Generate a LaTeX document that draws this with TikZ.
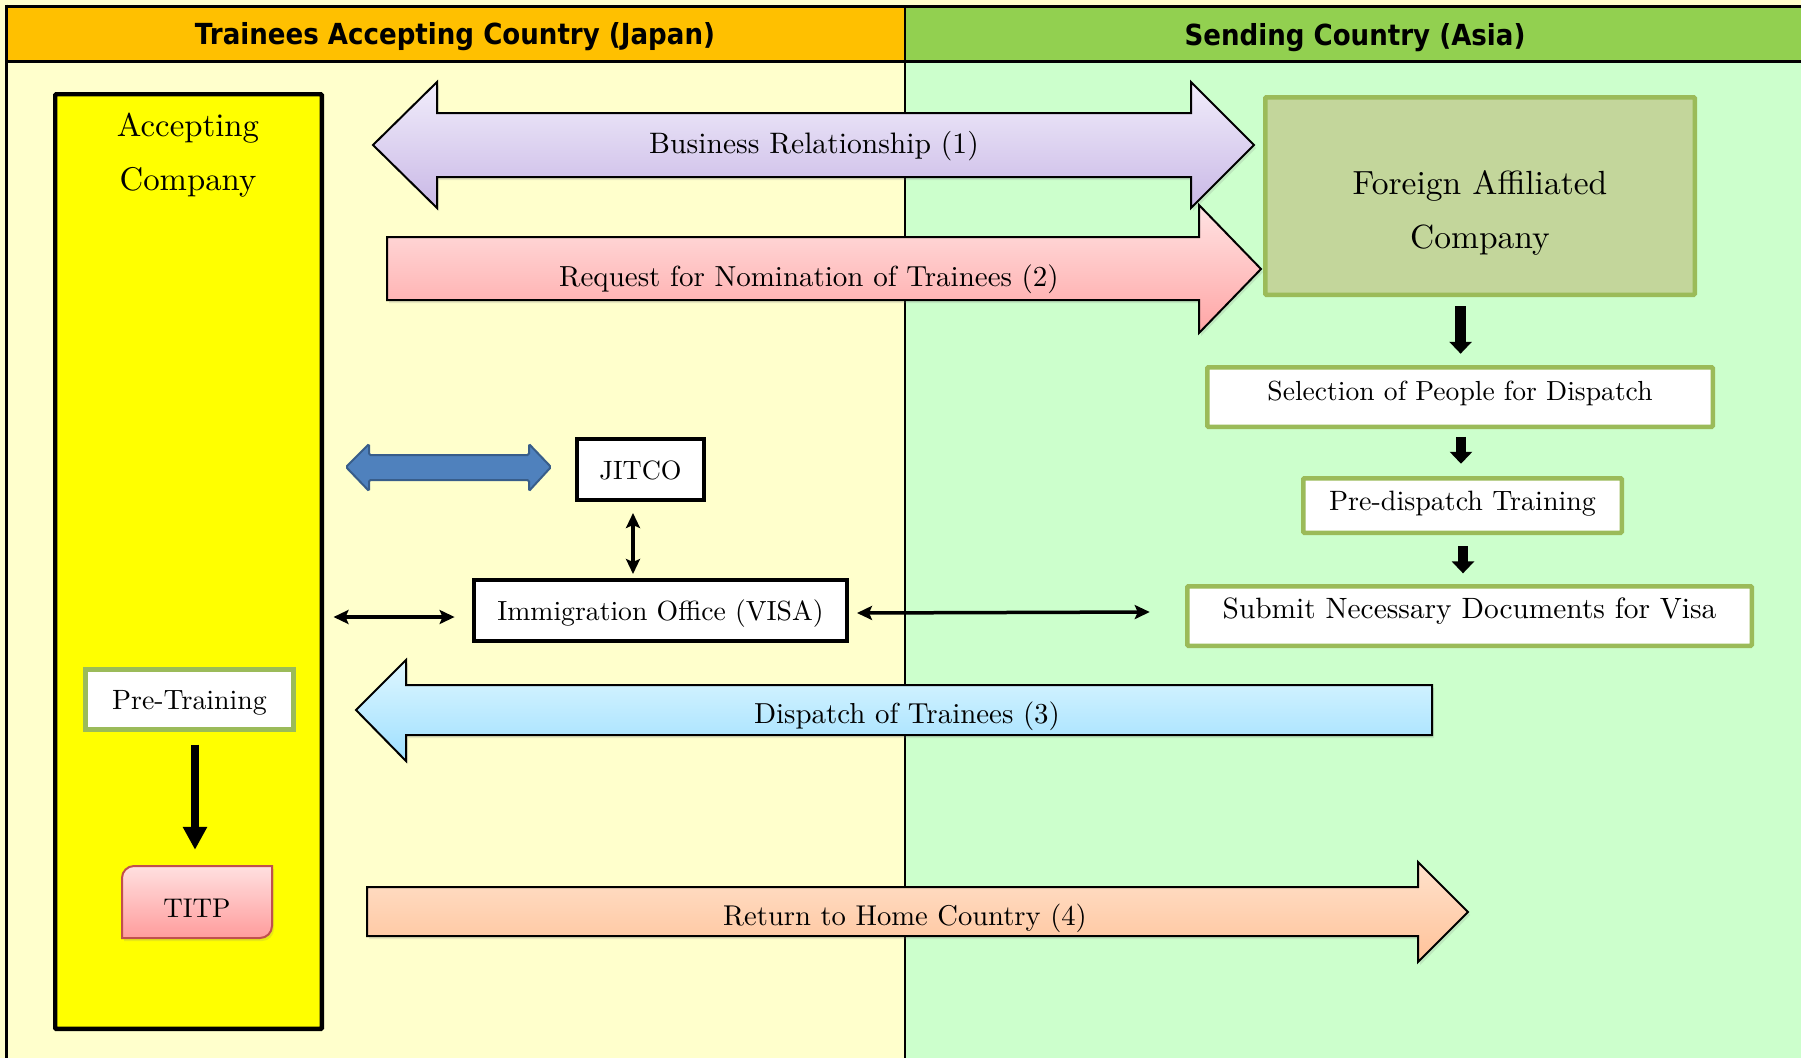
\documentclass[tikz,border=0pt]{standalone}
\usepackage{fontspec}
\usepackage{graphicx}
\setmainfont{lmroman10-regular}[Extension=.otf]
\usetikzlibrary{arrows.meta,calc,shadows}
\newfontfamily\hdrfont{DejaVu Sans}
\newcommand{\fsz}[2]{\fontsize{#1}{#2}\selectfont}
\newcommand{\bl}[2]{\raisebox{#1}[0pt][0pt]{#2}}
\definecolor{hdrOrange}{HTML}{FFC000}
\definecolor{hdrGreen}{HTML}{92D050}
\definecolor{bgY}{HTML}{FFFFCC}
\definecolor{bgG}{HTML}{CCFFCC}
\definecolor{accY}{HTML}{FFFF00}
\definecolor{facFill}{HTML}{C3D69B}
\definecolor{grnB}{HTML}{9BBB59}
\definecolor{blueF}{HTML}{4F81BD}
\definecolor{blueD}{HTML}{385D8A}
\definecolor{titpB}{HTML}{C0504D}
\definecolor{purT}{HTML}{F1EDFB}
\definecolor{purB}{HTML}{C9B8E6}
\definecolor{redT}{HTML}{FFE3E3}
\definecolor{redB}{HTML}{FFA5A5}
\definecolor{cyT}{HTML}{DFF7FF}
\definecolor{cyB}{HTML}{9EDFFF}
\definecolor{orT}{HTML}{FFE2CC}
\definecolor{orB}{HTML}{FFC299}
\definecolor{tpT}{HTML}{FFE0E0}
\definecolor{tpB}{HTML}{FF9C9C}
\begin{document}
\begin{tikzpicture}[x=1pt,y=-1pt,
  gbox/.style={draw=grnB, line width=4.5pt, fill=white, inner sep=0pt, rounded corners=1pt},
  kbox/.style={draw=black, line width=4pt, fill=white, inner sep=0pt},
  blk/.style={line width=3.5pt, {Stealth[length=15pt,width=14pt,inset=3pt]}-{Stealth[length=15pt,width=14pt,inset=3pt]}},
  flow/.style={line width=10.5pt, -{Triangle[length=12pt,width=22pt]}},
  bigarrow/.style={draw=black, line width=2pt, drop shadow={shadow xshift=2pt,shadow yshift=-3pt,opacity=0.18}},
  lbl/.style={inner sep=0pt, anchor=base}]
\useasboundingbox (0,0) rectangle (1801,1058);
% backgrounds
\fill[bgY] (0,0) rectangle (1801,1058);
\fill[bgG] (905,61) rectangle (1801,1058);
\fill[hdrOrange] (6.5,6) rectangle (905,61);
\fill[hdrGreen] (905,6) rectangle (1801,61);
\draw[line width=3pt] (5.25,6) -- (1801,6);
\draw[line width=3pt] (5.25,61) -- (1801,61);
\draw[line width=2.5pt] (6.5,4.5) -- (6.5,1058);
\draw[line width=1.6pt] (905,6) -- (905,61);
\draw[line width=1.2pt] (905,61) -- (905,1058);
% headers
\node[lbl, font=\hdrfont\bfseries\fsz{29}{35}] (h1) at (455,44.5) {\scalebox{0.9}[1]{Trainees Accepting Country (Japan)}};
\node[lbl, font=\hdrfont\bfseries\fsz{29}{35}] (h2) at (1355,45.5) {\scalebox{0.9}[1]{Sending Country (Asia)}};
% accepting company
\node[draw=black, line width=4.3pt, fill=accY, minimum width=266.7pt, minimum height=934.7pt, inner sep=0pt, rounded corners=1pt] (acc) at (188.5,561.5) {};
\node[lbl, font=\fsz{32.8}{54}, align=center] (acclabel) at (188,190) {Accepting\\Company};
% foreign affiliated company
\node[draw=grnB, line width=4.5pt, fill=facFill, minimum width=429.5pt, minimum height=197.5pt, inner sep=0pt, rounded corners=1pt] (fac) at (1480,196) {};
\node[lbl, font=\fsz{33.5}{54}, align=center] (faclabel) at (1480,248) {Foreign Affiliated\\Company};
% big arrows
\shadedraw[bigarrow, top color=purT, bottom color=purB]
  (373,145) -- (437,82) -- (437,113) -- (1191,113) -- (1191,82) -- (1254,145) -- (1191,208) -- (1191,177) -- (437,177) -- (437,208) -- cycle;
\node[lbl, font=\fsz{29.6}{35}] (brl) at (814,153) {Business Relationship (1)};
\shadedraw[bigarrow, top color=redT, bottom color=redB]
  (387,237) -- (1199,237) -- (1199,205) -- (1261,269) -- (1199,333) -- (1199,300) -- (387,300) -- cycle;
\node[lbl, font=\fsz{29}{35}] (rql) at (809,286) {Request for Nomination of Trainees (2)};
\shadedraw[bigarrow, top color=cyT, bottom color=cyB]
  (356,710) -- (406,660) -- (406,685) -- (1432,685) -- (1432,735) -- (406,735) -- (406,761) -- cycle;
\node[lbl, font=\fsz{28.9}{35}] (dpl) at (907,723) {Dispatch of Trainees (3)};
\shadedraw[bigarrow, top color=orT, bottom color=orB]
  (367,887) -- (1418,887) -- (1418,862) -- (1468,912) -- (1418,962) -- (1418,936) -- (367,936) -- cycle;
\node[lbl, font=\fsz{28.6}{35}] (rtl) at (905,925) {Return to Home Country (4)};
% right column boxes
\node[gbox, minimum width=505.5pt, minimum height=59.5pt, font=\fsz{27.6}{33}] (sel) at (1460,397) {\bl{-3.4pt}{Selection of People for Dispatch}};
\node[gbox, minimum width=318.5pt, minimum height=54.5pt, font=\fsz{28}{33}] (pred) at (1462.5,505.5) {\bl{-4.5pt}{Pre-dispatch Training}};
\node[gbox, minimum width=564.5pt, minimum height=59.5pt, font=\fsz{29.4}{35}] (sub) at (1469.5,616) {\bl{-2.5pt}{Submit Necessary Documents for Visa}};
% middle boxes
\node[kbox, minimum width=127pt, minimum height=61pt, font=\fsz{26.5}{32}] (jitco) at (640.5,469.5) {\bl{-9.5pt}{JITCO}};
\node[kbox, minimum width=373pt, minimum height=61pt, font=\fsz{27.7}{33}] (imm) at (660.5,610.5) {\bl{-9.5pt}{Immigration Office (VISA)}};
% left boxes
\node[draw=grnB, line width=5pt, fill=white, inner sep=0pt, minimum width=208pt, minimum height=60pt, font=\fsz{27.9}{33}] (pret) at (189.5,699.5) {\bl{-9.5pt}{Pre-Training}};
\shadedraw[draw=titpB, line width=2pt, top color=tpT, bottom color=tpB, drop shadow={shadow xshift=2pt,shadow yshift=-3pt,opacity=0.18}]
  (134,866) -- (272,866) -- (272,926) .. controls (272,932.6) and (266.6,938) .. (260,938) -- (122,938) -- (122,878) .. controls (122,871.4) and (127.4,866) .. (134,866) -- cycle;
\node[inner sep=0pt, minimum width=148pt, minimum height=70pt, font=\fsz{27}{32}] (titp) at (197,902) {\bl{-15pt}{TITP}};
% blue double arrow
\filldraw[fill=blueF, draw=blueD, line width=2pt, rounded corners=1.5pt]
  (346,467) -- (369,444) -- (369,455) -- (529,455) -- (529,444) -- (551,467) -- (529,491) -- (529,480) -- (369,480) -- (369,491) -- cycle;
% black connectors
\draw[blk] ($(jitco.south)+(-7.5,11)$) -- ($(imm.north)+(-27.5,-4)$);
\draw[blk] ($(acc.east |- imm.west)+(9.5,6.5)$) -- ($(imm.west)+(-17.4,6.5)$);
\draw[blk] ($(imm.east)+(8,2.5)$) -- ($(sub.west)+(-35.25,-4)$);
% flow arrows
\draw[flow] ($(fac.south -| sel.north)+(0.6,9.25)$) -- ($(sel.north)+(0.6,-11.25)$);
\draw[flow] ($(sel.south)+(1,7.75)$) -- ($(pred.north)+(-1.5,-12.25)$);
\draw[flow] ($(pred.south)+(0.5,11.25)$) -- ($(sub.north)+(-6.5,-10.65)$);
\draw[line width=8pt, -{Triangle[length=23pt,width=23pt]}] ($(pret.south)+(5.5,12.5)$) -- ($(titp.north)+(-2,-17)$);
\end{tikzpicture}
\end{document}
